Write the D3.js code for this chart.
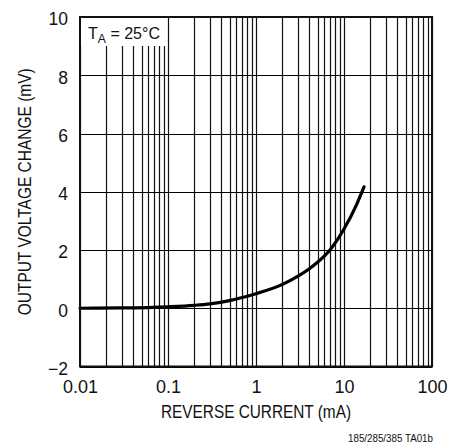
<!DOCTYPE html>
<html>
<head>
<meta charset="utf-8">
<script src="https://cdn.jsdelivr.net/npm/d3@7"></script>
<style>
  html, body { margin: 0; padding: 0; background: #fff; }
  svg { display: block; }
  text { font-family: "Liberation Sans", Arial, sans-serif; fill: #111; }
</style>
</head>
<body>
<svg id="chart" width="450" height="443"></svg>
<script>
// Data
const currentMA = [0.01, 0.03, 0.1, 0.2, 0.3, 0.5, 0.7, 1, 2, 3, 4, 5, 7, 10, 13.9, 16.9];
const voltageMV = [0.0, 0.01, 0.05, 0.10, 0.15, 0.26, 0.37, 0.50, 0.82, 1.10, 1.35, 1.58, 2.02, 2.72, 3.56, 4.17];
const xTickValues = [0.01, 0.1, 1, 10, 100];
const xTickLabels = ["0.01", "0.1", "1", "10", "100"];
const yTickValues = [-2, 0, 2, 4, 6, 8, 10];
const yTickLabels = ["\u22122", "0", "2", "4", "6", "8", "10"];

const svg = d3.select("#chart");
const L = 80, R = 432, T = 17, B = 366.5;

const x = d3.scaleLog().domain([0.01, 100]).range([L, R]);
const y = d3.scaleLinear().domain([-2, 10]).range([B, T]);

// vertical grid: minor log ticks
const vGrid = [];
for (let d = 0.01; d < 100; d *= 10) {
  for (let k = 1; k <= 9; k++) vGrid.push(+(d * k).toPrecision(3));
}
vGrid.push(100);

const grid = svg.append("g");
grid.selectAll("line.v").data(vGrid).join("line")
  .attr("x1", d => Math.round(x(d)) + 0.5).attr("x2", d => Math.round(x(d)) + 0.5)
  .attr("y1", T).attr("y2", B)
  .attr("stroke", "#111").attr("stroke-width", 1.2);

grid.selectAll("line.h").data(yTickValues).join("line")
  .attr("x1", L).attr("x2", R)
  .attr("y1", d => Math.round(y(d)) + 0.5).attr("y2", d => Math.round(y(d)) + 0.5)
  .attr("stroke", "#000").attr("stroke-width", 1.2);

// label box covering grid
svg.append("rect").attr("x", L).attr("y", T).attr("width", 86).attr("height", 29).attr("fill", "#fff");
const lab = svg.append("text").attr("x", 88).attr("y", 38.5).attr("font-size", 17);
lab.append("tspan").text("T");
lab.append("tspan").attr("font-size", 13).attr("dy", 4.5).text("A");
lab.append("tspan").attr("dy", -4.5).text(" = 25\u00B0C");
lab.attr("textLength", 72).attr("lengthAdjust", "spacingAndGlyphs");

// curve
const line = d3.line().x((d, i) => x(currentMA[i])).y(d => y(d)).curve(d3.curveMonotoneX);
svg.append("path").attr("d", line(voltageMV))
  .attr("fill", "none").attr("stroke", "#000").attr("stroke-width", 3.2).attr("stroke-linecap", "round");

// frame
svg.append("rect").attr("x", L).attr("y", T).attr("width", R - L).attr("height", B - T)
  .attr("fill", "none").attr("stroke", "#111").attr("stroke-width", 2);

// axes labels via d3 axes (no ticks/domain)
const xAxis = d3.axisBottom(x).tickValues(xTickValues).tickFormat((d, i) => xTickLabels[i]).tickSize(0).tickPadding(0);
const gx = svg.append("g").attr("transform", `translate(0,${B})`).call(xAxis);
gx.select(".domain").remove();
gx.attr("font-family", null).attr("font-size", null);
gx.selectAll("text").attr("font-size", 18).attr("dy", null).attr("y", 26.5).attr("fill", "#111");

const yAxis = d3.axisLeft(y).tickValues(yTickValues).tickFormat((d, i) => yTickLabels[i]).tickSize(0).tickPadding(0);
const gy = svg.append("g").attr("transform", `translate(68,0)`).call(yAxis);
gy.select(".domain").remove();
gy.attr("font-family", null).attr("font-size", null);
gy.selectAll("text").attr("font-size", 17.5).attr("dy", "0.45em").attr("x", 0).attr("fill", "#111");

// titles
svg.append("text").attr("x", (L + R) / 2).attr("y", 417.5).attr("text-anchor", "middle")
  .attr("font-size", 19).attr("textLength", 190).attr("lengthAdjust", "spacingAndGlyphs")
  .text("REVERSE CURRENT (mA)");
svg.append("text").attr("transform", `translate(31,${(T + B) / 2}) rotate(-90)`).attr("text-anchor", "middle")
  .attr("font-size", 19).attr("textLength", 247).attr("lengthAdjust", "spacingAndGlyphs")
  .text("OUTPUT VOLTAGE CHANGE (mV)");

svg.append("text").attr("x", 433).attr("y", 442).attr("text-anchor", "end")
  .attr("font-size", 10).attr("textLength", 85).attr("lengthAdjust", "spacingAndGlyphs")
  .text("185/285/385 TA01b");
</script>
</body>
</html>
